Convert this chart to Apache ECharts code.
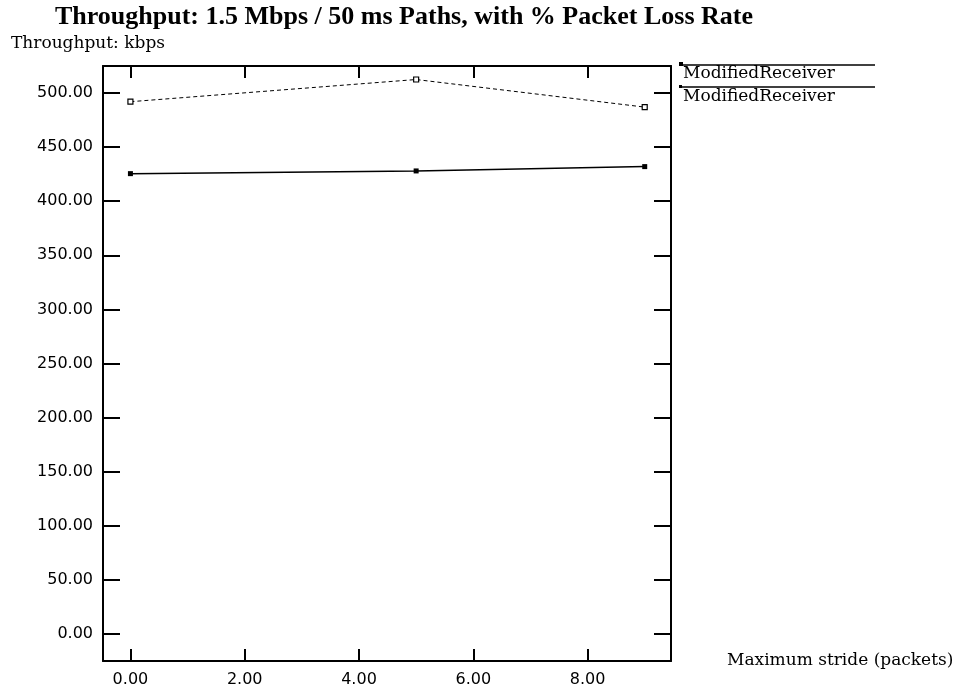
<!DOCTYPE html>
<html>
<head>
<meta charset="utf-8">
<title>Throughput</title>
<script src="https://cdn.jsdelivr.net/npm/echarts@6/dist/echarts.min.js"></script>
<style>
  html, body { margin: 0; padding: 0; background: #fff; }
  #main { width: 962px; height: 689px; }
</style>
</head>
<body>
<div id="main"></div>
<script>
// stride values (x) and throughput in kbps
var strides = [0, 5, 9];
var upperSeries = [492, 512.5, 487];
var lowerSeries = [425.5, 428, 432];
var xTicks = [0, 2, 4, 6, 8];
var yTicks = [0, 50, 100, 150, 200, 250, 300, 350, 400, 450, 500];
var seriesNames = ['ModifiedReceiver', 'ModifiedReceiver'];

function pairs(xs, ys) {
  return xs.map(function (x, i) { return [x, ys[i]]; });
}

var myChart = echarts.init(document.getElementById('main'));

var tickFont = { color: '#000', fontFamily: 'DejaVu Sans', fontSize: 16 };
var line = { show: true, onZero: false, lineStyle: { color: '#000', width: 2 } };
var tickStyle = { color: '#000', width: 2 };

function fmt(v) { return v.toFixed(2); }

var option = {
  animation: false,
  backgroundColor: '#fff',
  title: [
    {
      text: 'Throughput: 1.5 Mbps / 50 ms Paths, with % Packet Loss Rate',
      left: 55,
      top: 4,
      padding: 0,
      textStyle: { fontFamily: 'Liberation Serif', fontWeight: 'bold', fontSize: 26, color: '#000' }
    },
    {
      text: 'Throughput: kbps',
      left: 11,
      top: 35,
      padding: 0,
      textStyle: { fontFamily: 'DejaVu Serif', fontWeight: 'normal', fontSize: 17, color: '#000' }
    }
  ],
  grid: { left: 103, right: 291, top: 66, bottom: 28, containLabel: false },
  xAxis: [
    {
      type: 'value',
      min: -0.48,
      max: 9.46,
      position: 'bottom',
      name: 'Maximum stride (packets)',
      nameLocation: 'end',
      nameGap: 56,
      nameTextStyle: { fontFamily: 'DejaVu Serif', fontSize: 17, color: '#000', padding: [14, 0, 0, 0] },
      axisLine: line,
      axisTick: { show: true, inside: true, length: 12, customValues: xTicks, lineStyle: tickStyle },
      axisLabel: { show: true, customValues: xTicks, formatter: fmt, margin: 11, ...tickFont },
      splitLine: { show: false }
    },
    {
      type: 'value',
      min: -0.48,
      max: 9.46,
      position: 'top',
      axisLine: line,
      axisTick: { show: true, inside: true, length: 12, customValues: xTicks, lineStyle: tickStyle },
      axisLabel: { show: false },
      splitLine: { show: false }
    }
  ],
  yAxis: [
    {
      type: 'value',
      min: -25,
      max: 525,
      position: 'left',
      axisLine: line,
      axisTick: { show: true, inside: true, length: 17, customValues: yTicks, lineStyle: tickStyle },
      axisLabel: { show: true, customValues: yTicks, formatter: fmt, margin: 10, ...tickFont },
      splitLine: { show: false }
    },
    {
      type: 'value',
      min: -25,
      max: 525,
      position: 'right',
      axisLine: line,
      axisTick: { show: true, inside: true, length: 17, customValues: yTicks, lineStyle: tickStyle },
      axisLabel: { show: false },
      splitLine: { show: false }
    }
  ],
  series: [
    {
      name: seriesNames[0],
      type: 'line',
      data: pairs(strides, upperSeries),
      symbol: 'rect',
      symbolSize: 5,
      itemStyle: { color: '#fff', borderColor: '#000', borderWidth: 1.2 },
      lineStyle: { color: '#000', width: 1, type: [4, 3] }
    },
    {
      name: seriesNames[1],
      type: 'line',
      data: pairs(strides, lowerSeries),
      symbol: 'rect',
      symbolSize: 5,
      itemStyle: { color: '#000' },
      lineStyle: { color: '#000', width: 1.5 }
    }
  ],
  graphic: [
    // legend block on the right
    { type: 'line', shape: { x1: 681, y1: 65, x2: 875, y2: 65 }, style: { stroke: '#000', lineWidth: 1.5 } },
    { type: 'rect', shape: { x: 679, y: 62, width: 4, height: 4 }, style: { fill: '#000' } },
    { type: 'text', left: 683, top: 65, style: { text: seriesNames[0], font: '17px "DejaVu Serif"', fill: '#000' } },
    { type: 'line', shape: { x1: 681, y1: 87, x2: 875, y2: 87 }, style: { stroke: '#000', lineWidth: 1.5 } },
    { type: 'rect', shape: { x: 679, y: 85, width: 3, height: 3 }, style: { fill: '#000' } },
    { type: 'text', left: 683, top: 88, style: { text: seriesNames[1], font: '17px "DejaVu Serif"', fill: '#000' } }
  ]
};

myChart.setOption(option);
</script>
</body>
</html>
